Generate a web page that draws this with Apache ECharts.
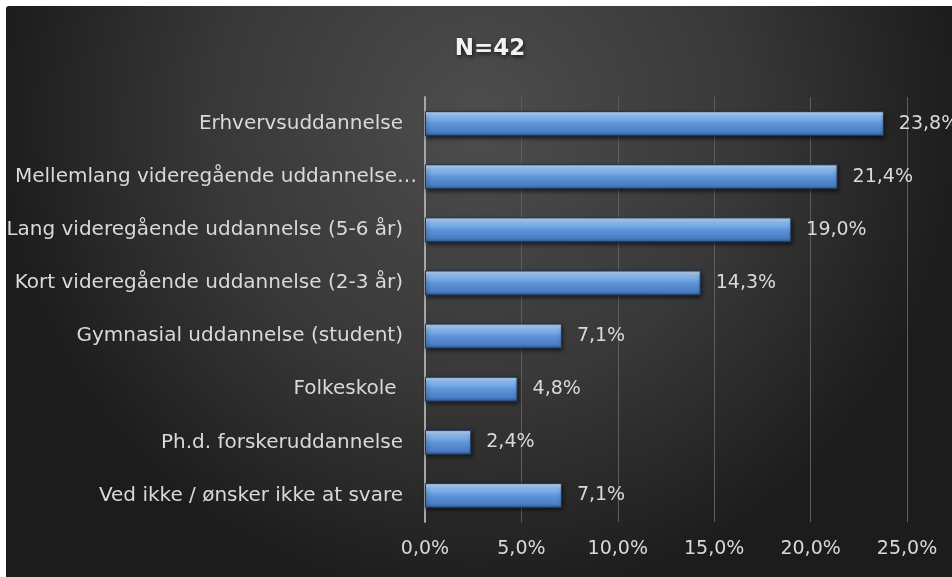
<!DOCTYPE html>
<html>
<head>
<meta charset="utf-8">
<script src="https://cdn.jsdelivr.net/npm/echarts@6/dist/echarts.min.js"></script>
<style>
  html, body { margin: 0; padding: 0; background: #ffffff; }
  #wrap { position: absolute; left: 0; top: 0; width: 952px; height: 577px; background: #ffffff; }
  #chart { position: absolute; left: 6px; top: 6px; width: 946px; height: 571px; border-top-left-radius: 3px; overflow: hidden; }
</style>
</head>
<body>
<div id="wrap"><div id="chart"></div></div>
<script>
// Education level categories (top to bottom)
const categories = [
  'Erhvervsuddannelse',
  'Mellemlang videregående uddannelse…',
  'Lang videregående uddannelse (5-6 år)',
  'Kort videregående uddannelse (2-3 år)',
  'Gymnasial uddannelse (student)',
  'Folkeskole ',
  'Ph.d. forskeruddannelse',
  'Ved ikke / ønsker ikke at svare'
];
// Share of respondents, percent
const values = [23.8, 21.4, 19.0, 14.3, 7.1, 4.8, 2.4, 7.1];
const titleText = 'N=42';

const fmt = v => v.toFixed(1).replace('.', ',') + '%';
const fontFam = '"DejaVu Sans", sans-serif';

// The truncated label runs closer to the axis than the others
const yData = categories.map(c => c.endsWith('…')
  ? { value: c, textStyle: { padding: [0, -14, 0, 0] } }
  : c);

const chart = echarts.init(document.getElementById('chart'), null, { renderer: 'canvas' });

chart.setOption({
  backgroundColor: {
    type: 'radial', x: 0.5, y: 0.2, r: 0.85,
    colorStops: [
      { offset: 0, color: '#4d4d4d' },
      { offset: 0.55, color: '#383838' },
      { offset: 1, color: '#1c1c1c' }
    ]
  },
  animation: false,
  title: {
    text: titleText,
    left: 479, top: 27, textAlign: 'center',
    textStyle: {
      color: '#f2f2f2', fontSize: 23, fontWeight: 'bold', fontFamily: fontFam,
      textShadowColor: 'rgba(0,0,0,0.7)', textShadowBlur: 4, textShadowOffsetX: 1, textShadowOffsetY: 2
    }
  },
  grid: { left: 419, right: 45, top: 91, bottom: 55, containLabel: false, outerBoundsMode: 'none' },
  xAxis: {
    type: 'value', min: 0, max: 25, interval: 5,
    axisLine: { show: false },
    axisTick: { show: false },
    splitLine: { show: true, lineStyle: { color: '#5e5e5e', width: 1 } },
    axisLabel: {
      color: '#d9d9d9', fontSize: 19, fontFamily: fontFam, margin: 18,
      formatter: v => fmt(v)
    }
  },
  yAxis: {
    type: 'category', data: yData, inverse: true,
    axisLine: { show: true, lineStyle: { color: '#a6a6a6', width: 2 } },
    axisTick: { show: false },
    axisLabel: { color: '#d9d9d9', fontSize: 20, fontFamily: fontFam, margin: 22 }
  },
  series: [{
    type: 'bar', data: values, barWidth: 25,
    itemStyle: {
      color: {
        type: 'linear', x: 0, y: 0, x2: 0, y2: 1,
        colorStops: [
          { offset: 0, color: '#7fb0ea' },
          { offset: 0.1, color: '#b8d8f9' },
          { offset: 0.22, color: '#8cbaef' },
          { offset: 0.5, color: '#5f95da' },
          { offset: 0.85, color: '#4a7dc3' },
          { offset: 1, color: '#2e5890' }
        ]
      },
      borderColor: '#1f3656', borderWidth: 1,
      shadowColor: 'rgba(0,0,0,0.6)', shadowBlur: 4, shadowOffsetX: 1, shadowOffsetY: 2
    },
    label: {
      show: true, position: 'right', distance: 15,
      color: '#d9d9d9', fontSize: 19, fontFamily: fontFam,
      formatter: p => fmt(p.value)
    }
  }]
});
</script>
</body>
</html>
